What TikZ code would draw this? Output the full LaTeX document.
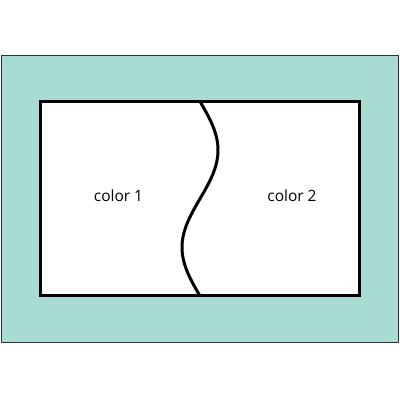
\documentclass[tikz,border=0pt]{standalone}
\usepackage{fontspec}
\setmainfont{Open Sans}
\usetikzlibrary{positioning}
\definecolor{matteal}{RGB}{168,220,210}

\begin{document}
\begin{tikzpicture}[x=1pt, y=1pt, label/.style = {font=\fontsize{15.5}{18}\selectfont}]
    \useasboundingbox (0,0) rectangle (400,400);
    \draw[fill=matteal, line width=1pt, draw=black!80] (1.5,57.5) rectangle (398.5,344.5);
    \draw[fill=white, line width=3pt] (40.5,104) rectangle (359,298.5);
    % wavy divider
    \draw[line width=3pt] plot[domain=0:194.5, samples=90, smooth]
        ({200+18*sin(1.8509*\x)}, {298.5-\x});
    \node[label] (c1) at (118.5,204) {color 1};
    \node[label] (c2) at (292,204) {color 2};
\end{tikzpicture}
\end{document}
